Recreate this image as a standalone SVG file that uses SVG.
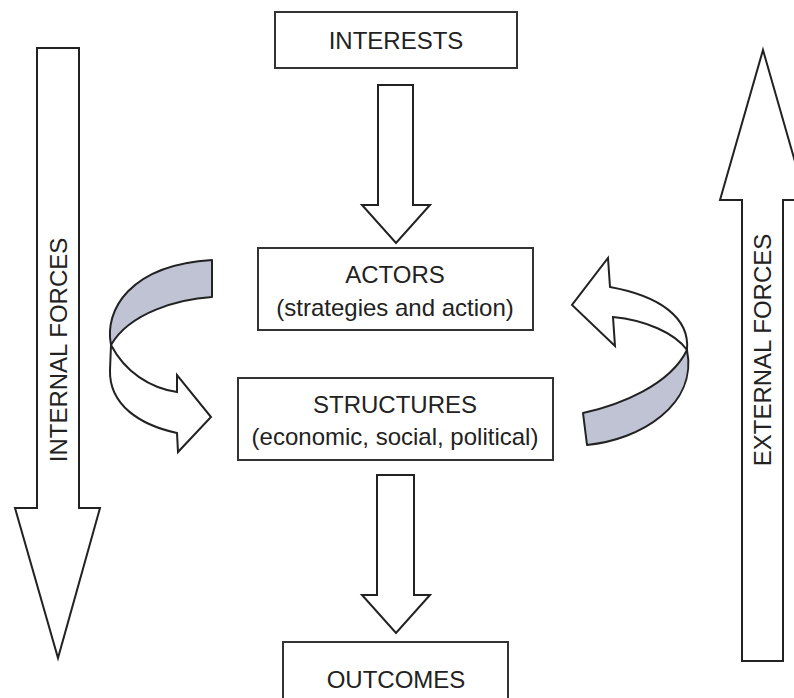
<svg xmlns="http://www.w3.org/2000/svg" width="794" height="698" viewBox="0 0 794 698">
<style>
.box{fill:#fff;stroke:#333;stroke-width:2}
.arr{fill:#fff;stroke:#222;stroke-width:2;stroke-linejoin:miter}
.band{fill:#bfc3d3;stroke:#222;stroke-width:2;stroke-linejoin:round}
.t{font-family:"Liberation Sans",Arial,sans-serif;font-size:24px;fill:#222;text-anchor:middle}
</style>
<rect width="794" height="698" fill="#fff"/>
<g id="internal-forces">
<path class="arr" d="M37,48 L79,48 L79,508 L100,508 L58,658 L15,508 L37,508 Z"/>
<text class="t" transform="translate(67,350) rotate(-90)">INTERNAL FORCES</text>
</g>
<g id="external-forces">
<path class="arr" d="M763,50 L806,200 L783,200 L783,661 L742,661 L742,200 L720,200 Z"/>
<text class="t" transform="translate(771,350) rotate(-90)">EXTERNAL FORCES</text>
</g>
<g id="connectors">
<path class="arr" d="M378,85 L413,85 L413,205 L430,205 L396,243 L362,205 L378,205 Z"/>
<path class="arr" d="M377,475 L414,475 L414,595 L430,595 L396,633 L362,595 L377,595 Z"/>
<g id="left-cycle">
<path class="band" d="M212,260 L212,297 C180,299 130,312 111,345 C104,310 130,265 212,260 Z"/>
<path class="arr" d="M111,345 C125,372 150,388 177,392 L177,375 L211,417 L178,452 L177,433 C140,425 109,405 110,370 Z"/>
</g>
<g id="right-cycle">
<path class="band" d="M583,413 L587,445 C640,440 698,405 687,350 C670,385 620,405 583,413 Z"/>
<path class="arr" d="M687,350 C690,318 660,296 610,287 L608,258 L572,305 L615,346 L613,317 C645,320 675,333 687,350 Z"/>
</g>
</g>
<g id="interests">
<rect class="box" x="275" y="12" width="242" height="56"/>
<text class="t" x="396" y="49">INTERESTS</text>
</g>
<g id="actors">
<rect class="box" x="258" y="248" width="275" height="82"/>
<text class="t" x="395" y="283">ACTORS</text>
<text class="t" x="395" y="316">(strategies and action)</text>
</g>
<g id="structures">
<rect class="box" x="238" y="378" width="315" height="82"/>
<text class="t" x="395" y="413">STRUCTURES</text>
<text class="t" x="395" y="445">(economic, social, political)</text>
</g>
<g id="outcomes">
<rect class="box" x="283" y="642" width="225" height="70"/>
<text class="t" x="396" y="688">OUTCOMES</text>
</g>
</svg>
